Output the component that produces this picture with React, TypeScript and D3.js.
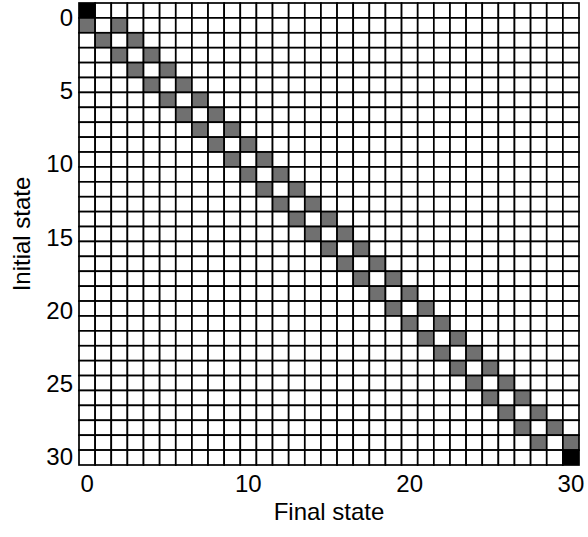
import React from 'react';
import * as d3 from 'd3';

// states 0..30 of the walk
const states = [0, 1, 2, 3, 4, 5, 6, 7, 8, 9, 10, 11, 12, 13, 14, 15, 16, 17, 18, 19, 20, 21, 22, 23, 24, 25, 26, 27, 28, 29, 30];
const yTickValues = [0, 5, 10, 15, 20, 25, 30];
const xTickValues = [0, 10, 20, 30];

// [initial, final, probability] – the nonzero entries only
const transitions: [number, number, number][] = [
  [0, 0, 1],
  [1, 0, 0.5], [1, 2, 0.5],
  [2, 1, 0.5], [2, 3, 0.5],
  [3, 2, 0.5], [3, 4, 0.5],
  [4, 3, 0.5], [4, 5, 0.5],
  [5, 4, 0.5], [5, 6, 0.5],
  [6, 5, 0.5], [6, 7, 0.5],
  [7, 6, 0.5], [7, 8, 0.5],
  [8, 7, 0.5], [8, 9, 0.5],
  [9, 8, 0.5], [9, 10, 0.5],
  [10, 9, 0.5], [10, 11, 0.5],
  [11, 10, 0.5], [11, 12, 0.5],
  [12, 11, 0.5], [12, 13, 0.5],
  [13, 12, 0.5], [13, 14, 0.5],
  [14, 13, 0.5], [14, 15, 0.5],
  [15, 14, 0.5], [15, 16, 0.5],
  [16, 15, 0.5], [16, 17, 0.5],
  [17, 16, 0.5], [17, 18, 0.5],
  [18, 17, 0.5], [18, 19, 0.5],
  [19, 18, 0.5], [19, 20, 0.5],
  [20, 19, 0.5], [20, 21, 0.5],
  [21, 20, 0.5], [21, 22, 0.5],
  [22, 21, 0.5], [22, 23, 0.5],
  [23, 22, 0.5], [23, 24, 0.5],
  [24, 23, 0.5], [24, 25, 0.5],
  [25, 24, 0.5], [25, 26, 0.5],
  [26, 25, 0.5], [26, 27, 0.5],
  [27, 26, 0.5], [27, 28, 0.5],
  [28, 27, 0.5], [28, 29, 0.5],
  [29, 28, 0.5], [29, 30, 0.5],
  [30, 30, 1],
];

const W = 588;
const H = 537;
const margin = { top: 3, right: 9, bottom: 72, left: 79 };
const font = "'Liberation Sans', Arial, Helvetica, sans-serif";

export default function App() {
  const innerW = W - margin.left - margin.right;
  const innerH = H - margin.top - margin.bottom;

  const x = d3.scaleBand<number>().domain(states).range([0, innerW]).padding(0);
  const y = d3.scaleBand<number>().domain(states).range([0, innerH]).padding(0);
  // the printed labels sit a little lower than the row centres near the top
  const yLabel = d3.scaleLinear().domain([0, 30]).range([y.bandwidth() / 2 + 7, innerH - y.bandwidth() / 2 - 1]);
  const color = d3.scaleLinear<string>().domain([0, 0.5, 1]).range(['#ffffff', '#707070', '#000000']);

  const lookup = new Map<string, number>();
  transitions.forEach(([r, c, p]) => lookup.set(`${r}-${c}`, p));

  const cells: { r: number; c: number; p: number }[] = [];
  states.forEach((r) => states.forEach((c) => cells.push({ r, c, p: lookup.get(`${r}-${c}`) || 0 })));

  return (
    <svg width={W} height={H} style={{ display: 'block', position: 'absolute', left: 0, top: 0, background: '#fff' }}>
      <g transform={`translate(${margin.left},${margin.top})`}>
        {cells.map((d) => (
          <rect
            key={`${d.r}-${d.c}`}
            x={x(d.c)}
            y={y(d.r)}
            width={x.bandwidth()}
            height={y.bandwidth()}
            fill={color(d.p)}
            stroke="#000"
            strokeWidth={1.7}
          />
        ))}
        {yTickValues.map((t) => (
          <text
            key={'y' + t}
            x={-6}
            y={yLabel(t)}
            textAnchor="end"
            dominantBaseline="central"
            fontFamily={font}
            fontSize={24}
            fill="#000"
          >
            {t}
          </text>
        ))}
        {xTickValues.map((t) => (
          <text
            key={'x' + t}
            x={(x(t) as number) + x.bandwidth() / 2}
            y={innerH + 27}
            textAnchor="middle"
            fontFamily={font}
            fontSize={24}
            fill="#000"
          >
            {t}
          </text>
        ))}
        <text
          x={innerW / 2}
          y={innerH + 55}
          textAnchor="middle"
          fontFamily={font}
          fontSize={24}
          fill="#000"
        >
          Final state
        </text>
        <text
          transform={`translate(${-49},${innerH / 2}) rotate(-90)`}
          textAnchor="middle"
          fontFamily={font}
          fontSize={24}
          fill="#000"
        >
          Initial state
        </text>
      </g>
    </svg>
  );
}
